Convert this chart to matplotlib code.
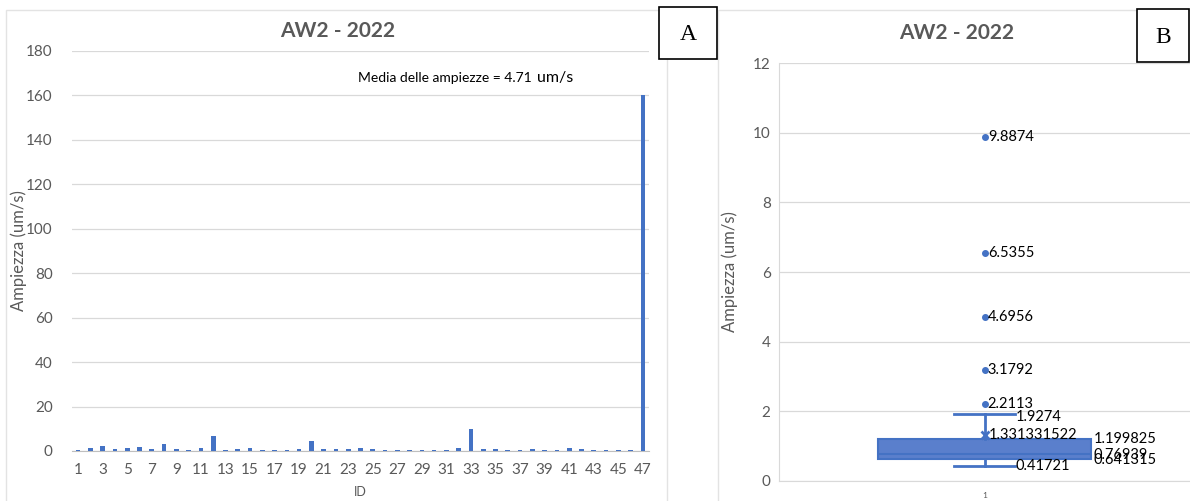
import matplotlib.pyplot as plt
from matplotlib.patches import Rectangle

plt.rcParams['font.family'] = ['Lato', 'DejaVu Sans']

# --- dati pannello A: ampiezza per ID ---
ids = list(range(1, 48))
ampiezze = [0.48, 1.35, 2.2113, 0.75, 1.15, 1.75, 0.70, 3.1792, 0.95, 0.41721,
            1.2, 6.5355, 0.6, 0.85, 1.5, 0.62, 0.6, 0.5, 0.9, 4.6956,
            0.72, 0.88, 0.72, 1.25, 0.7, 0.62, 0.6, 0.5, 0.5, 0.48,
            0.5, 1.3, 9.8874, 0.75, 0.75, 0.5, 0.55, 0.77, 0.52, 0.52,
            1.4, 0.72, 0.5, 0.5, 0.48, 0.5, 160.1]
media_txt = "Media delle ampiezze = 4.71"

box_min = 0.41721
box_q1 = 0.641315
box_med = 0.76939
box_q3 = 1.199825
box_max = 1.9274
box_mean = 1.331331522
outliers = [2.2113, 3.1792, 4.6956, 6.5355, 9.8874]

blu = '#4472C4'
grigio = '#595959'
griglia = '#d9d9d9'

W, H = 1190, 501
fig = plt.figure(figsize=(W / 100, H / 100), dpi=100)


def fx(px):
    return px / W


def fy(py):
    return 1 - py / H


# cornici delle aree grafico
fig.patches.append(Rectangle((fx(6), fy(505)), fx(661), fy(10) - fy(505),
                             transform=fig.transFigure, fill=False,
                             edgecolor='#e3e3e3', lw=1))
fig.patches.append(Rectangle((fx(718), fy(505)), fx(480), fy(10) - fy(505),
                             transform=fig.transFigure, fill=False,
                             edgecolor='#e3e3e3', lw=1))

# ================= pannello A =================
ax1 = fig.add_axes([fx(72), fy(451), fx(649) - fx(72), fy(51) - fy(451)])
ax1.bar(ids, ampiezze, width=0.38, color=blu, zorder=3)
ax1.set_xlim(0.5, 47.5)
ax1.set_ylim(0, 180)
ax1.set_yticks(range(0, 181, 20))
ax1.set_xticks(ids[::2])
ax1.grid(axis='y', color=griglia, lw=0.9, zorder=0)
for s in ['top', 'right', 'left']:
    ax1.spines[s].set_visible(False)
ax1.spines['bottom'].set_color('#bfbfbf')
ax1.tick_params(axis='both', length=0, labelsize=11, labelcolor=grigio)
ax1.tick_params(axis='y', pad=14)
ax1.tick_params(axis='x', pad=9)
ax1.set_xlabel('ID', fontsize=9, color=grigio, labelpad=6)
ax1.set_ylabel('Ampiezza (um/s)', fontsize=12, color=grigio)
ax1.yaxis.set_label_coords(-0.078, 0.5)
t = ax1.text(0.496, 0.932, media_txt, transform=ax1.transAxes,
             fontsize=10, color='black', va='center')
fig.canvas.draw()
bb = t.get_window_extent().transformed(ax1.transAxes.inverted())
ax1.text(bb.x1 + 0.008, 0.932, 'um/s', transform=ax1.transAxes,
         fontsize=11.5, color='black', va='center')
fig.text(fx(338), fy(31), 'AW2 - 2022', fontsize=15, fontweight='bold',
         color=grigio, ha='center', va='center')

# ================= pannello B =================
ax2 = fig.add_axes([fx(779), fy(481), fx(1190) - fx(779), fy(63) - fy(481)])
stats = [dict(med=box_med, q1=box_q1, q3=box_q3, whislo=box_min,
              whishi=box_max, mean=box_mean, fliers=outliers)]
ax2.bxp(stats, positions=[1], widths=0.52, capwidths=0.146,
        showmeans=True, patch_artist=True,
        boxprops=dict(facecolor='#5a7fcc', edgecolor=blu, lw=1.5),
        medianprops=dict(color=blu, lw=1.5),
        whiskerprops=dict(color=blu, lw=2),
        capprops=dict(color=blu, lw=2),
        meanprops=dict(marker='x', markeredgecolor=blu, markersize=6, mew=2),
        flierprops=dict(marker='o', markerfacecolor=blu, markeredgecolor=blu,
                        markersize=4))
ax2.set_xlim(0.5, 1.5)
ax2.set_ylim(0, 12)
ax2.set_yticks(range(0, 13, 2))
ax2.set_xticks([1])
ax2.set_xticklabels(['1'])
ax2.grid(axis='y', color=griglia, lw=0.9, zorder=0)
ax2.set_axisbelow(True)
for s in ['top', 'right']:
    ax2.spines[s].set_visible(False)
ax2.spines['left'].set_color(griglia)
ax2.spines['bottom'].set_color(griglia)
ax2.tick_params(axis='both', length=0, labelcolor=grigio)
ax2.tick_params(axis='y', labelsize=11, pad=6)
ax2.tick_params(axis='x', labelsize=6, pad=8)
ax2.set_ylabel('Ampiezza (um/s)', fontsize=12, color=grigio)
ax2.yaxis.set_label_coords(-0.1, 0.5)

etich = dict(fontsize=10.5, color='black', va='center', clip_on=False)
for v in outliers:
    ax2.text(1.008, v, f'{v:g}', **etich)
ax2.text(1.075, box_max - 0.08, f'{box_max:g}', **etich)
ax2.text(1.01, box_mean, f'{box_mean:.9f}', **etich)
ax2.text(1.265, box_q3, '1.199825', **etich)
ax2.text(1.265, box_med - 0.02, f'{box_med:g}', **etich)
ax2.text(1.265, box_q1 - 0.03, f'{box_q1:g}', **etich)
ax2.text(1.075, box_min, f'{box_min:g}', **etich)
fig.text(fx(957), fy(33), 'AW2 - 2022', fontsize=15, fontweight='bold',
         color=grigio, ha='center', va='center')

# etichette A e B
for x0, y0, x1, y1, lab in [(659, 7, 717, 59, 'A'), (1137, 9, 1189, 62, 'B')]:
    fig.patches.append(Rectangle((fx(x0), fy(y1)), fx(x1 - x0), fy(y0) - fy(y1),
                                 transform=fig.transFigure, facecolor='white',
                                 edgecolor='black', lw=1.2, zorder=5))
    fig.text(fx((x0 + x1) / 2), fy((y0 + y1) / 2 + 2), lab, fontsize=17,
             family='Liberation Serif', ha='center', va='center', zorder=6)

fig.savefig('out.png', dpi=100)
